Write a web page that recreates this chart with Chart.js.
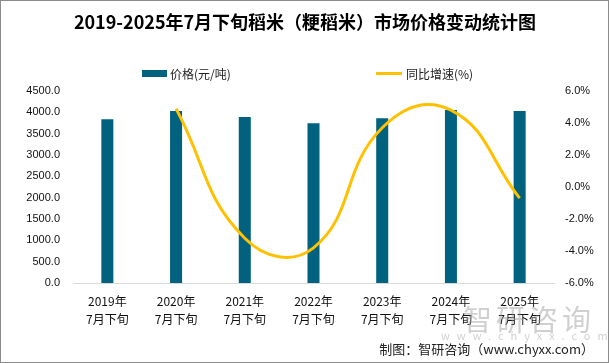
<!DOCTYPE html>
<html>
<head>
<meta charset="utf-8">
<script src="https://cdn.jsdelivr.net/npm/chart.js@4.4.1/dist/chart.umd.min.js"></script>
<style>
  html, body { margin: 0; padding: 0; background: #fff; }
  #wrap { position: relative; width: 609px; height: 363px; box-sizing: border-box; border: 1px solid #8c8c8c; overflow: hidden; }
  #c { position: absolute; left: 0; top: 0; }
  .wm { position: absolute; color: rgba(150,150,150,0.45); font-family: "Noto Sans CJK SC", sans-serif; }
  #source { position: absolute; right: 14px; top: 338px; font-family: "Noto Sans CJK SC", sans-serif; font-size: 13px; color: #222; }
</style>
</head>
<body>
<div id="wrap">
  <canvas id="c" width="607" height="361"></canvas>
  <div class="wm" style="left:462px; top:296px; font-size:29px; letter-spacing:4px;">智研咨询</div>
  <div class="wm" style="left:440px; top:326px; font-size:11px; letter-spacing:7px;">www.chyxx.com</div>
  <div id="source">制图：智研咨询（www.chyxx.com）</div>
</div>
<script>
// Dane z wykresu
const years = ['2019年', '2020年', '2021年', '2022年', '2023年', '2024年', '2025年'];
const priceValues = [3840, 4030, 3888, 3746, 3864, 4053, 4029];
const growthValues = [null, 4.9, -3.2, -3.8, 3.7, 4.8, -0.7];
const leftTicks = [0, 500, 1000, 1500, 2000, 2500, 3000, 3500, 4000, 4500];
const rightTicks = [-6, -4, -2, 0, 2, 4, 6];

const chartTitle = '2019-2025年7月下旬稻米（粳稻米）市场价格变动统计图';
const barColor = '#00627f';
const lineColor = '#ffc000';

// Tytuł i legenda rysowane ręcznie
const headerPlugin = {
    id: 'header',
    afterDraw(chart) {
        const ctx = chart.ctx;
        ctx.save();
        ctx.fillStyle = '#000';
        ctx.font = 'bold 18px "Noto Sans CJK SC", sans-serif';
        ctx.textAlign = 'center';
        ctx.textBaseline = 'middle';
        ctx.fillText(chartTitle, 304, 21);

        ctx.font = '12px "Noto Sans CJK SC", sans-serif';
        ctx.textAlign = 'left';
        const ds = chart.data.datasets;
        // słupki
        ctx.fillStyle = barColor;
        ctx.fillRect(141, 69, 25, 7);
        ctx.fillStyle = '#222';
        ctx.fillText(ds[1].label, 169, 73);
        // linia
        ctx.strokeStyle = lineColor;
        ctx.lineWidth = 3;
        ctx.beginPath();
        ctx.moveTo(375, 72.5);
        ctx.lineTo(401, 72.5);
        ctx.stroke();
        ctx.fillText(ds[0].label, 405, 73);
        ctx.restore();
    }
};

new Chart(document.getElementById('c'), {
    data: {
        labels: years.map(y => [y, '7月下旬']),
        datasets: [{
            type: 'line',
            label: '同比增速(%)',
            data: growthValues,
            yAxisID: 'y1',
            borderColor: lineColor,
            borderWidth: 3,
            pointRadius: 0,
            tension: 0.45,
            order: 0
        }, {
            type: 'bar',
            label: '价格(元/吨)',
            data: priceValues,
            yAxisID: 'y',
            backgroundColor: barColor,
            categoryPercentage: 1,
            barPercentage: 0.175,
            order: 1
        }]
    },
    options: {
        responsive: false,
        animation: false,
        layout: { padding: { top: 90, left: 0, right: 0, bottom: 0 } },
        plugins: { legend: { display: false }, title: { display: false }, tooltip: { enabled: false } },
        scales: {
            x: {
                grid: { display: false, drawTicks: false },
                border: { color: '#d9d9d9' },
                ticks: {
                    color: '#111',
                    padding: 9,
                    maxRotation: 0,
                    font: { family: '"Noto Sans CJK SC", sans-serif', size: 12, lineHeight: 1.5 }
                },
                afterFit: s => { s.height = 79; }
            },
            y: {
                position: 'left',
                min: 0, max: 4500,
                afterBuildTicks: s => { s.ticks = leftTicks.map(v => ({ value: v })); },
                grid: { display: false, drawTicks: false },
                border: { display: false },
                ticks: {
                    color: '#111',
                    padding: 13,
                    font: { family: '"Liberation Sans", sans-serif', size: 11 },
                    callback: v => v.toFixed(1)
                },
                afterFit: s => { s.width = 72; }
            },
            y1: {
                position: 'right',
                min: -6, max: 6,
                afterBuildTicks: s => { s.ticks = rightTicks.map(v => ({ value: v })); },
                grid: { display: false, drawTicks: false },
                border: { display: false },
                ticks: {
                    color: '#111',
                    padding: 11,
                    font: { family: '"Liberation Sans", sans-serif', size: 11 },
                    callback: v => v.toFixed(1) + '%'
                },
                afterFit: s => { s.width = 54; }
            }
        }
    },
    plugins: [headerPlugin]
});
</script>
</body>
</html>
